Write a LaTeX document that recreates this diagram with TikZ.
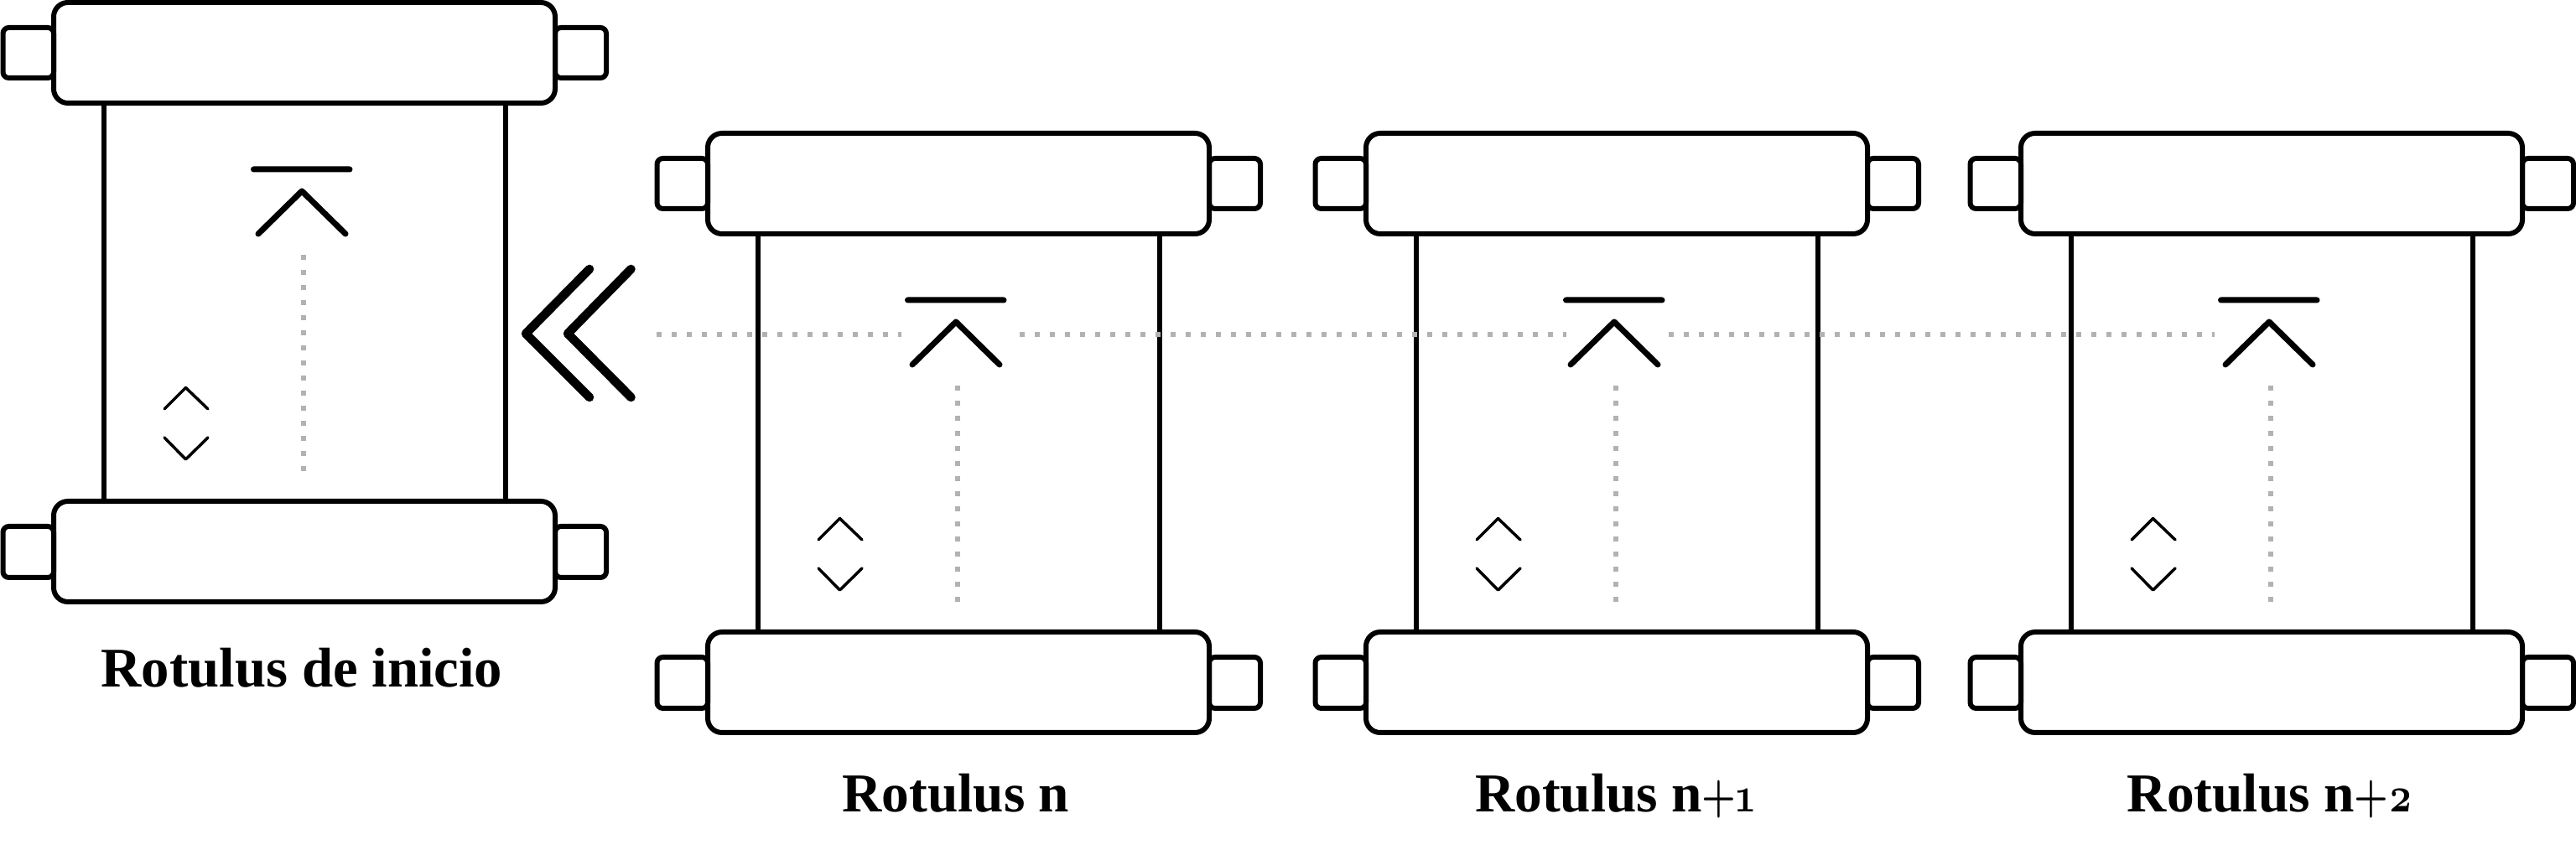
\documentclass[tikz,border=0pt]{standalone}
\usepackage{fontspec}
\setmainfont{Liberation Serif}
\newfontfamily\oldnums[Numbers=OldStyle]{Latin Modern Roman}
\newcommand{\idx}[1]{\scalebox{0.78}[1]{\oldnums\fontsize{17}{17}\selectfont #1}}
\begin{document}
\begin{tikzpicture}
    \tikzstyle{every node}=[font=\fontsize{18.6}{19}\selectfont\bfseries, anchor=base, inner sep=0pt]
    \tikzstyle{rollbox}=[draw, line width=0.06cm, rounded corners=0.17cm]
    \tikzstyle{knobbox}=[draw, line width=0.06cm, rounded corners=0.07cm]
    \tikzstyle{sideline}=[line width=0.06cm]
    \tikzstyle{bigmark}=[line width=0.07cm, line cap=round, line join=round]
    \tikzstyle{smallmark}=[line width=0.035cm, line cap=round, line join=round]
    \tikzstyle{backmark}=[line width=0.105cm, line cap=round, line join=round]
    \tikzstyle{dotline}=[color=black!30, line width=0.06cm, dash pattern=on 0.06cm off 0.12cm]
    \useasboundingbox (0,0) rectangle (30.72,10.2);

    % Rotulus de inicio
    \draw [knobbox] (0.035,9.87) rectangle (0.64,9.27) (6.62,9.87) rectangle (7.23,9.27) (0.035,3.92) rectangle (0.64,3.31) (6.62,3.92) rectangle (7.23,3.31);
    \draw [sideline] (1.235,8.97) -- (1.235,4.22) (6.03,8.97) -- (6.03,4.22);
    \draw [rollbox] (0.64,10.17) rectangle (6.62,8.97) (0.64,4.22) rectangle (6.62,3.02);
    \draw [bigmark] (3.025,8.18) -- (4.17,8.18) (3.08,7.41) -- (3.60,7.92) -- (4.12,7.41);
    \draw [smallmark] (1.96,5.32) -- (2.215,5.575) -- (2.48,5.32) (1.96,4.98) -- (2.215,4.72) -- (2.48,4.98);
    \draw [dotline] (3.62,7.16) -- (3.62,4.57);
    \node [font=\fontsize{19}{19}\selectfont\bfseries] (inicio) at (3.60,2.00) {Rotulus de inicio};

    % Double back chevron
    \draw [backmark] (7.03,6.99) -- (6.27,6.22) -- (7.03,5.46);
    \draw [backmark] (7.525,6.99) -- (6.77,6.22) -- (7.525,5.46);

    % Rotulus n
    \draw [knobbox] (7.835,8.31) rectangle (8.44,7.71) (14.42,8.31) rectangle (15.03,7.71) (7.835,2.36) rectangle (8.44,1.75) (14.42,2.36) rectangle (15.03,1.75);
    \draw [sideline] (9.035,7.41) -- (9.035,2.66) (13.83,7.41) -- (13.83,2.66);
    \draw [rollbox] (8.44,8.61) rectangle (14.42,7.41) (8.44,2.66) rectangle (14.42,1.46);
    \draw [bigmark] (10.825,6.62) -- (11.97,6.62) (10.88,5.85) -- (11.40,6.36) -- (11.92,5.85);
    \draw [smallmark] (9.76,3.76) -- (10.015,4.015) -- (10.28,3.76) (9.76,3.42) -- (10.015,3.16) -- (10.28,3.42);
    \draw [dotline] (11.42,5.60) -- (11.42,3.01);
    \node (rotn) at (11.40,0.51) {Rotulus n};

    % Rotulus n+1
    \draw [knobbox] (15.685,8.31) rectangle (16.29,7.71) (22.27,8.31) rectangle (22.88,7.71) (15.685,2.36) rectangle (16.29,1.75) (22.27,2.36) rectangle (22.88,1.75);
    \draw [sideline] (16.885,7.41) -- (16.885,2.66) (21.68,7.41) -- (21.68,2.66);
    \draw [rollbox] (16.29,8.61) rectangle (22.27,7.41) (16.29,2.66) rectangle (22.27,1.46);
    \draw [bigmark] (18.675,6.62) -- (19.82,6.62) (18.73,5.85) -- (19.25,6.36) -- (19.77,5.85);
    \draw [smallmark] (17.61,3.76) -- (17.865,4.015) -- (18.13,3.76) (17.61,3.42) -- (17.865,3.16) -- (18.13,3.42);
    \draw [dotline] (19.27,5.60) -- (19.27,3.01);
    \node (rotnone) at (19.26,0.51) {Rotulus n\idx{+1}};

    % Rotulus n+2
    \draw [knobbox] (23.495,8.31) rectangle (24.10,7.71) (30.08,8.31) rectangle (30.69,7.71) (23.495,2.36) rectangle (24.10,1.75) (30.08,2.36) rectangle (30.69,1.75);
    \draw [sideline] (24.695,7.41) -- (24.695,2.66) (29.49,7.41) -- (29.49,2.66);
    \draw [rollbox] (24.10,8.61) rectangle (30.08,7.41) (24.10,2.66) rectangle (30.08,1.46);
    \draw [bigmark] (26.485,6.62) -- (27.63,6.62) (26.54,5.85) -- (27.06,6.36) -- (27.58,5.85);
    \draw [smallmark] (25.42,3.76) -- (25.675,4.015) -- (25.94,3.76) (25.42,3.42) -- (25.675,3.16) -- (25.94,3.42);
    \draw [dotline] (27.08,5.60) -- (27.08,3.01);
    \node (rotntwo) at (27.07,0.51) {Rotulus n\idx{+2}};

    % Dotted track through the rotuli
    \draw [dotline] (7.83,6.21) -- (10.75,6.21);
    \draw [dotline] (12.16,6.21) -- (18.68,6.21);
    \draw [dotline] (19.90,6.21) -- (26.41,6.21);

\end{tikzpicture}
\end{document}
